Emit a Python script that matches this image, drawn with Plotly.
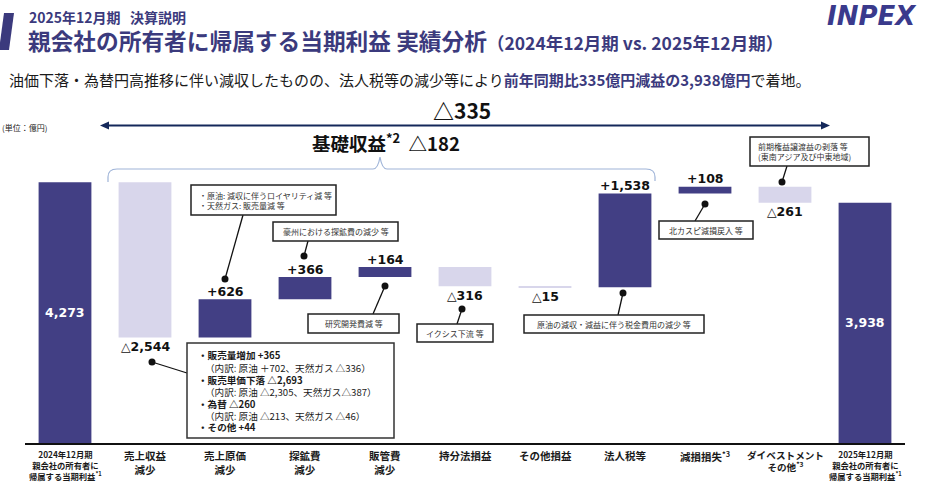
import plotly.graph_objects as go

# ---------------- data ----------------
categories = ["2024年12月期", "売上収益減少", "売上原価減少", "探鉱費減少", "販管費減少",
              "持分法損益", "その他損益", "法人税等", "減損損失", "ダイベストメント その他", "2025年12月期"]
values = [4273, -2544, 626, 366, 164, -316, -15, 1538, 108, -261, 3938]
measures = ["absolute"] + ["relative"] * 9 + ["absolute"]
value_labels = ["4,273", "△2,544", "+626", "+366", "+164", "△316", "△15",
                "+1,538", "+108", "△261", "3,938"]
tick_labels = [
    "<b>2024年12月期<br>親会社の所有者に<br>帰属する当期利益<sup>*1</sup></b>",
    "<b>売上収益<br>減少</b>",
    "<b>売上原価<br>減少</b>",
    "<b>探鉱費<br>減少</b>",
    "<b>販管費<br>減少</b>",
    "<b>持分法損益</b>",
    "<b>その他損益</b>",
    "<b>法人税等</b>",
    "<b>減損損失<sup>*3</sup></b>",
    "<b>ダイベストメント<br>その他<sup>*3</sup></b>",
    "<b>2025年12月期<br>親会社の所有者に<br>帰属する当期利益<sup>*1</sup></b>",
]
tick_sizes = [8.3, 10.5, 10.5, 10.5, 10.5, 10.5, 10.5, 10.5, 10.5, 9.6, 8.3]

DARK = "#423F84"
LIGHT = "#D8D6EB"
TITLE_C = "#3B3A7D"
JP = "Noto Sans CJK JP"
NUM = "DejaVu Sans"

W, H = 928, 492
L, R, T, B = 25, 23, 138, 49
YMAX = 5000


def X(px):
    return (px - L) / (W - L - R)


def Y(py):
    return (H - B - py) / (H - T - B)


def text_at(px, pyy, text, size, color="#111111", family=JP, xanchor="center", align="center"):
    return dict(x=X(px), y=Y(pyy), xref="paper", yref="paper", xanchor=xanchor, yanchor="middle",
                align=align, text=text, showarrow=False,
                font=dict(family=family, size=size, color=color))


fig = go.Figure(go.Waterfall(
    x=categories, y=values, measure=measures,
    increasing=dict(marker=dict(color=DARK)),
    decreasing=dict(marker=dict(color=LIGHT)),
    totals=dict(marker=dict(color=DARK)),
    connector=dict(visible=False),
    hoverinfo="skip",
))

ann = []
shapes = []

# value labels from running totals
running = 0
for cat, v, m, lab in zip(categories, values, measures, value_labels):
    if m == "absolute":
        running = v
        ann.append(dict(x=cat, y=v / 2, xref="x", yref="y", text=f"<b>{lab}</b>",
                        showarrow=False, xanchor="center", yanchor="middle",
                        font=dict(family=NUM, size=12.5, color="white")))
    else:
        running += v
        ann.append(dict(x=cat, y=running, xref="x", yref="y", text=f"<b>{lab}</b>",
                        showarrow=False, xanchor="center", yanchor="middle",
                        yshift=8 if v > 0 else -9,
                        font=dict(family=NUM, size=12.5, color="#111111")))

# category labels under the axis
for cat, t, sz in zip(categories, tick_labels, tick_sizes):
    ann.append(dict(x=cat, y=Y(446), xref="x", yref="paper", text=t, showarrow=False,
                    xanchor="center", yanchor="top", align="center",
                    font=dict(family=JP, size=sz, color="#1a1a1a")))

# ---------------- header ----------------
shapes.append(dict(type="path", xref="paper", yref="paper",
                   path=f"M {X(4)},{Y(13)} L {X(14)},{Y(13)} L {X(9)},{Y(50)} L {X(-1)},{Y(50)} Z",
                   fillcolor=TITLE_C, line=dict(width=0)))
ann.append(text_at(27, 17, "<b>2025年12月期   決算説明</b>", 14, TITLE_C, xanchor="left"))
ann.append(text_at(26, 41, "<b>親会社の所有者に帰属する当期利益 実績分析</b>"
                           "<b><span style='font-size:17.5px'>（2024年12月期 vs. 2025年12月期）</span></b>",
                   22.7, TITLE_C, xanchor="left"))
ann.append(text_at(919, 16, "<b><i>INPEX</i></b>", 26, "#3A3A8C", family="DejaVu Sans", xanchor="right"))
ann.append(text_at(7, 80, "油価下落・為替円高推移に伴い減収したものの、法人税等の減少等により"
                          f"<b><span style='color:{TITLE_C}'>前年同期比335億円減益の3,938億円</span></b>で着地。",
                   15, "#1a1a1a", xanchor="left"))

# total change arrow
ann.append(text_at(462, 110, "<b>△335</b>", 21, "#111111"))
ARC = "#14285A"
shapes.append(dict(type="line", xref="paper", yref="paper", x0=X(106), x1=X(824), y0=Y(125.5), y1=Y(125.5),
                   line=dict(color=ARC, width=2)))
shapes.append(dict(type="path", xref="paper", yref="paper",
                   path=f"M {X(100)},{Y(125.5)} L {X(109)},{Y(121.5)} L {X(109)},{Y(129.5)} Z",
                   fillcolor=ARC, line=dict(width=0)))
shapes.append(dict(type="path", xref="paper", yref="paper",
                   path=f"M {X(830)},{Y(125.5)} L {X(821)},{Y(121.5)} L {X(821)},{Y(129.5)} Z",
                   fillcolor=ARC, line=dict(width=0)))
ann.append(text_at(0, 127, "(単位：億円)", 8, "#222222", xanchor="left"))

# base profit bracket
ann.append(text_at(386, 142, "<b>基礎収益<sup>*2</sup>  △182</b>", 18.5, "#111111"))
BR = "#9FB4D8"
bp = (f"M {X(108)},{Y(182)} L {X(108)},{Y(177)} Q {X(108)},{Y(169)} {X(117)},{Y(169)} "
      f"L {X(373)},{Y(169)} Q {X(378)},{Y(169)} {X(380)},{Y(157)} Q {X(382)},{Y(169)} {X(387)},{Y(169)} "
      f"L {X(646)},{Y(169)} Q {X(655)},{Y(169)} {X(655)},{Y(177)} L {X(655)},{Y(181)}")
shapes.append(dict(type="path", xref="paper", yref="paper", path=bp, line=dict(color=BR, width=1.2)))

# ---------------- callouts ----------------
callouts = [
    dict(box=(191, 185, 336, 215), text="・原油: 減収に伴うロイヤリティ減 等<br>・天然ガス: 販売量減 等",
         align="left", start=(243, 215), dot=(225, 279)),
    dict(box=(273, 222, 398, 241), text="豪州における探鉱費の減少 等", align="center",
         start=(308, 241), dot=(304, 256)),
    dict(box=(308, 314, 399, 333), text="研究開発費減 等", align="center",
         start=(373, 314), dot=(385, 286)),
    dict(box=(417, 324, 493, 342), text="イクシス下流 等", align="center",
         start=(457, 324), dot=(462, 309)),
    dict(box=(524, 315, 704, 333), text="原油の減収・減益に伴う税金費用の減少 等", align="center",
         start=(618, 315), dot=(623, 293)),
    dict(box=(659, 221, 753, 239), text="北カスピ減損戻入 等", align="center",
         start=(695, 221), dot=(705, 204)),
    dict(box=(750, 137, 869, 166), text="前期権益譲渡益の剥落 等<br>(東南アジア及び中東地域)", align="left",
         start=(787, 166), dot=(782, 182)),
]
for c in callouts:
    x0, y0, x1, y1 = c["box"]
    shapes.append(dict(type="line", xref="paper", yref="paper", x0=X(c["start"][0]), y0=Y(c["start"][1]),
                       x1=X(c["dot"][0]), y1=Y(c["dot"][1]), line=dict(color="#111111", width=1.3)))
    shapes.append(dict(type="circle", xref="paper", yref="paper",
                       x0=X(c["dot"][0] - 3.5), x1=X(c["dot"][0] + 3.5),
                       y0=Y(c["dot"][1] - 3.5), y1=Y(c["dot"][1] + 3.5),
                       fillcolor="#111111", line=dict(width=0)))
    shapes.append(dict(type="rect", xref="paper", yref="paper", x0=X(x0), x1=X(x1), y0=Y(y0), y1=Y(y1),
                       fillcolor="white", line=dict(color="#222222", width=1.5)))
    if c["align"] == "left":
        ann.append(text_at(x0 + 6, (y0 + y1) / 2, c["text"], 8, "#333333", xanchor="left", align="left"))
    else:
        ann.append(text_at((x0 + x1) / 2, (y0 + y1) / 2, c["text"], 8, "#333333"))

# big revenue breakdown box
shapes.append(dict(type="line", xref="paper", yref="paper", x0=X(152), y0=Y(362), x1=X(187), y1=Y(373),
                   line=dict(color="#111111", width=1.3)))
shapes.append(dict(type="circle", xref="paper", yref="paper", x0=X(148.5), x1=X(155.5),
                   y0=Y(358.5), y1=Y(365.5), fillcolor="#111111", line=dict(width=0)))
shapes.append(dict(type="rect", xref="paper", yref="paper", x0=X(187), x1=X(394), y0=Y(343), y1=Y(438),
                   fillcolor="white", line=dict(color="#333333", width=1.5)))
breakdown = [
    ("<b>・販売量増加 +365</b>", 196, 355),
    ("（内訳: 原油 ＋702、天然ガス △336）", 203, 367.5),
    ("<b>・販売単価下落 △2,693</b>", 196, 380),
    ("（内訳: 原油 △2,305、天然ガス△387）", 203, 392),
    ("<b>・為替 △260</b>", 196, 403.5),
    ("（内訳: 原油 △213、天然ガス △46）", 203, 415.5),
    ("<b>・その他 +44</b>", 196, 427),
]
for t, px, pyy in breakdown:
    ann.append(text_at(px, pyy, t, 9.6, "#1a1a1a", xanchor="left", align="left"))

fig.update_layout(
    width=W, height=H, margin=dict(l=L, r=R, t=T, b=B),
    paper_bgcolor="white", plot_bgcolor="white",
    showlegend=False, waterfallgap=0.34,
    xaxis=dict(showticklabels=False, showgrid=False, zeroline=False, showline=True,
               linecolor="#111111", linewidth=2, ticks=""),
    yaxis=dict(range=[0, YMAX], visible=False, showgrid=False, zeroline=False),
    annotations=ann, shapes=shapes,
)
fig.write_html("out.html", config={"displayModeBar": False},
               post_script="document.body.style.margin='0px';")
